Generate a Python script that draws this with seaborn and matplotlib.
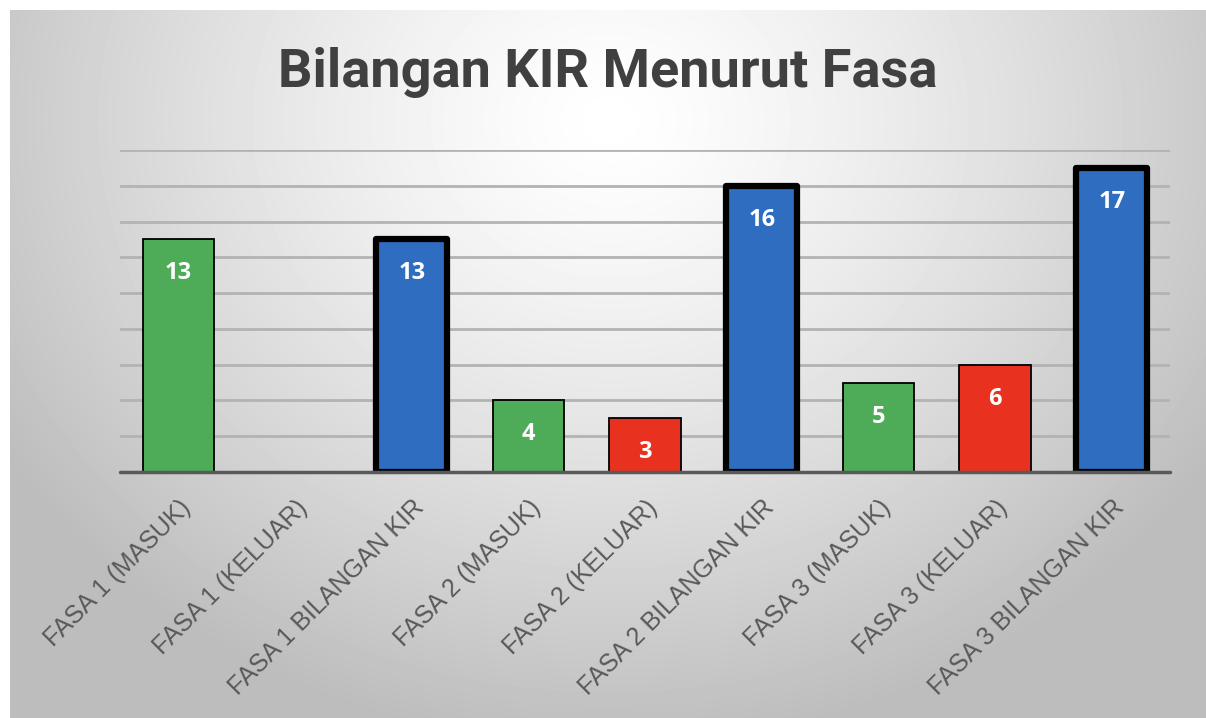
import numpy as np
import pandas as pd
import seaborn as sns
import matplotlib.pyplot as plt

# data
categories = ["FASA 1 (MASUK)", "FASA 1 (KELUAR)", "FASA 1 BILANGAN KIR",
              "FASA 2 (MASUK)", "FASA 2 (KELUAR)", "FASA 2 BILANGAN KIR",
              "FASA 3 (MASUK)", "FASA 3 (KELUAR)", "FASA 3 BILANGAN KIR"]
values = [13, 0, 13, 4, 3, 16, 5, 6, 17]
kinds = ["masuk", "keluar", "jumlah"] * 3

kind_colors = {"masuk": "#4EAB58", "keluar": "#E8321F", "jumlah": "#2E6DBF"}

df = pd.DataFrame({"fasa": categories, "bilangan": values, "jenis": kinds})

sns.set_theme(style="white")
W, H = 1206, 718
fig = plt.figure(figsize=(W / 100, H / 100), dpi=100, facecolor="white")

# radial grey gradient background inside the chart frame
bg = fig.add_axes([10 / W, 0, 1 - 10 / W, 1 - 10 / H], zorder=0)
yy, xx = np.mgrid[0:708, 0:1196]
r = np.sqrt(((xx - 600) / 800) ** 2 + ((yy - 110) / 700) ** 2)
shade = np.clip(1.0 - 0.30 * r ** 1.3, 0.74, 1.0)
bg.imshow(shade, cmap="gray", vmin=0, vmax=1, aspect="auto", interpolation="bilinear")
bg.set_axis_off()

ax = fig.add_axes([120 / W, 1 - 472 / H, 1050 / W, 322 / H], zorder=1)
ax.patch.set_alpha(0)

sns.barplot(data=df, x="fasa", y="bilangan", hue="fasa",
            palette=[kind_colors[k] for k in kinds], legend=False, saturation=1,
            width=0.61, edgecolor="black", ax=ax, zorder=3)

for p in ax.patches:
    i = int(round(p.get_x() + p.get_width() / 2))
    if kinds[i] == "jumlah":
        p.set_linewidth(4.5)
        p.set_joinstyle("round")
    else:
        p.set_linewidth(1.3)

for i, v in enumerate(values):
    if v > 0:
        ax.text(i, v - 1.9, str(v), ha="center", va="center", color="white",
                fontsize=17, fontweight="bold", family="Open Sans", zorder=5)

ax.set_ylim(0, 18)
ax.set_xlim(-0.5, len(categories) - 0.5)
ax.set_yticks(np.arange(2, 19, 2))
ax.yaxis.grid(True, color="#b3b3b3", linewidth=2)
ax.set_axisbelow(True)
ax.set_yticklabels([])
ax.tick_params(axis="y", length=0)
ax.axhline(0, color="#595959", linewidth=2.5, zorder=4, clip_on=False)
for s in ax.spines.values():
    s.set_visible(False)

ax.set_xlabel("")
ax.set_ylabel("")
ax.tick_params(axis="x", length=0, pad=17)
ax.set_xticks(range(len(categories)))
ax.set_xticklabels(categories, rotation=45, ha="right", va="top", rotation_mode="anchor",
                   color="#595959", fontsize=18, family="Liberation Sans")

fig.text(608 / W, 1 - 72 / H, "Bilangan KIR Menurut Fasa", ha="center", va="center",
         fontsize=39, fontweight="bold", color="#404040", family="Roboto")

fig.savefig("out.png", dpi=100, facecolor="white")
